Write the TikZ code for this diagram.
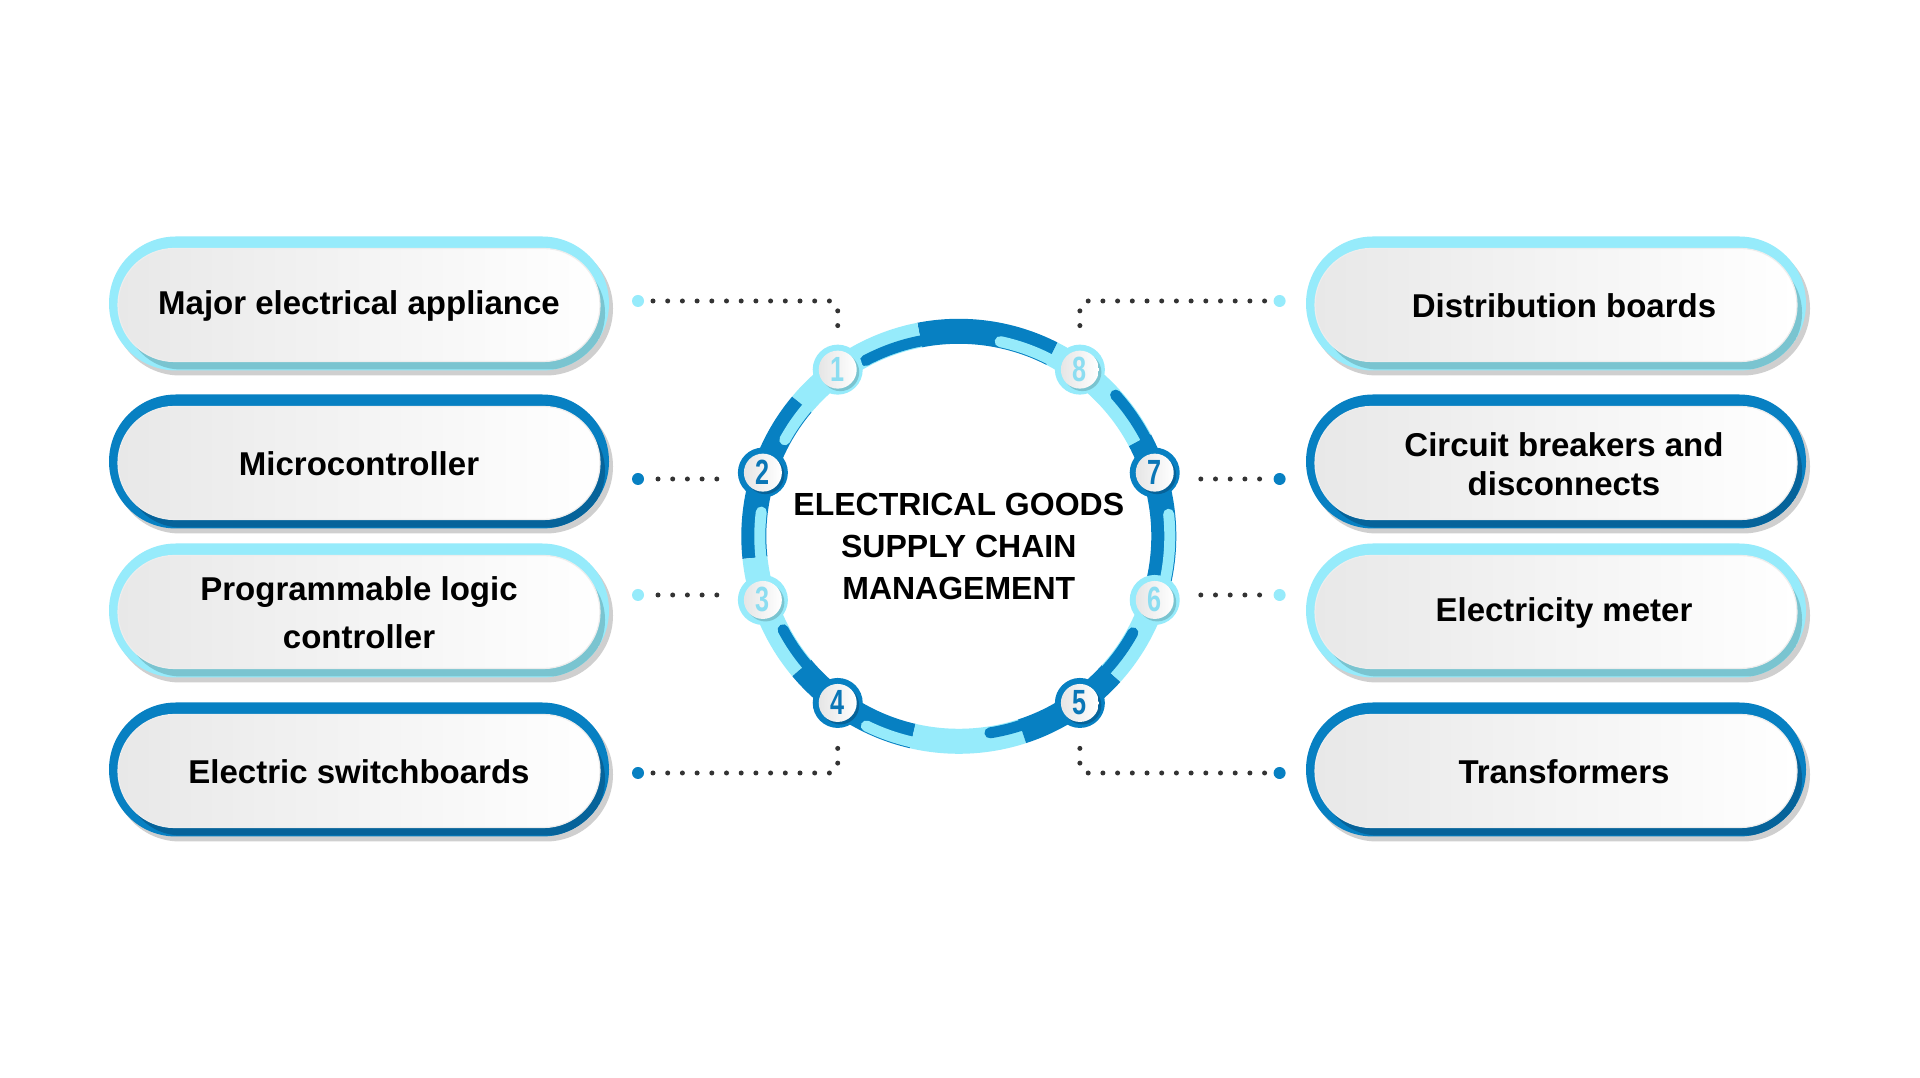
\documentclass[tikz,border=0pt]{standalone}
\usepackage{fontspec}
\setmainfont{Liberation Sans}
\usepackage{graphicx}
\usetikzlibrary{calc}
\definecolor{lightc}{HTML}{96EBFB}
\definecolor{darkc}{HTML}{0780C2}
\definecolor{lightsh}{HTML}{7AC4D0}
\definecolor{darksh}{HTML}{06639A}
\definecolor{graysh}{HTML}{CFCFCF}
\definecolor{lightnum}{HTML}{8CDDF1}
\definecolor{darknum}{HTML}{0A76B6}
\definecolor{dotc}{HTML}{333333}

\newcommand\pill[8]{% cx, cy, ring, shadow, name, fontsize/skip, text x, text
  \fill[graysh, rounded corners=67pt] ({#1-246},{#2-72}) rectangle ({#1+254},{#2+62});
  \fill[#3, rounded corners=67pt] ({#1-250},{#2-67}) rectangle ({#1+250},{#2+67});
  \begin{scope}
    \clip[rounded corners=67pt] ({#1-250},{#2-67}) rectangle ({#1+250},{#2+67});
    \fill[#4, rounded corners=56pt] ({#1-234},{#2-66}) rectangle ({#1+246},{#2+47});
  \end{scope}
  \shade[left color=black!9, right color=white, rounded corners=56.5pt] ({#1-241},{#2-58}) rectangle ({#1+241},{#2+55});
  \draw[black!7, line width=1.2pt, rounded corners=56.5pt] ({#1-241},{#2-58}) rectangle ({#1+241},{#2+55});
  \node[pilltext, font=\bfseries\fontsize{33}{#6}\selectfont] (#5) at (#7,{#2-2.5}) {#8};
}
\newcommand\numnode[6]{% name, angle, ring, shadow, digitcolor, digit
  \node[circle, fill=#3, minimum size=50pt, inner sep=0pt] (#1) at ({\rcx+206*cos(#2)},{\rcy+206*sin(#2)}) {};
  \fill[#4] ([shift={(2.5,-2.5)}]#1.center) circle (19);
  \shade[left color=black!10, right color=white] (#1.center) circle (19);
  \node[inner sep=0pt, text=#5, font=\bfseries\fontsize{35}{35}\selectfont] at (#1.center) {\scalebox{0.72}[1]{#6}};
}

\begin{document}
\begin{tikzpicture}[x=1pt,y=1pt,
  pilltext/.style={align=center, text=black, inner sep=0pt},
  dots/.style={dotc, line width=5pt, line cap=round, dash pattern=on 0pt off 14.7pt},
  bigdot/.style={circle, inner sep=0pt, minimum size=12pt},
  band/.style={line width=25pt},
  tongue/.style={line width=11pt, line cap=round},
]
\useasboundingbox (0,0) rectangle (1920,1078);
\fill[white] (0,0) rectangle (1920,1078);
\def\rcx{958.8}
\def\rcy{541.7}

% pills left
\pill{359}{774.5}{lightc}{lightsh}{l1}{40}{359}{Major electrical appliance}
\pill{359}{616.5}{darkc}{darksh}{l2}{40}{359}{Microcontroller}
\pill{359}{467.5}{lightc}{lightsh}{l3}{48}{359}{Programmable logic\\controller}
\pill{359}{308.5}{darkc}{darksh}{l4}{40}{359}{Electric switchboards}
% pills right
\pill{1556}{774.5}{lightc}{lightsh}{r1}{40}{1564}{Distribution boards}
\pill{1556}{616.5}{darkc}{darksh}{r2}{39}{1564}{Circuit breakers and\\disconnects}
\pill{1556}{467.5}{lightc}{lightsh}{r3}{40}{1564}{Electricity meter}
\pill{1556}{308.5}{darkc}{darksh}{r4}{40}{1564}{Transformers}

% ring bands
\foreach \a/\b/\col in {-12/28/darkc, 28/63/lightc, 63/101/darkc, 101/140/lightc, 140/186/darkc, 186/220/lightc, 220/257/darkc, 257/288/lightc, 288/318/darkc, 318/348/lightc}
  \draw[band, \col] ({\rcx+205*cos(\a)},{\rcy+205*sin(\a)}) arc[start angle=\a, end angle=\b, radius=205];
% ring tongues
\foreach \a/\b/\r/\col in {101/118/199/darkc, 63/78/199/lightc, 28/42/211/darkc, -12/6/211/lightc, -42/-29/199/darkc, -81/-72/199/darkc, -116/-103/211/lightc, 208/220/199/darkc, 173/186/199/lightc, 140/151/199/lightc}
  \draw[tongue, \col] ({\rcx+\r*cos(\a)},{\rcy+\r*sin(\a)}) arc[start angle=\a, end angle=\b, radius=\r];

% number nodes
\numnode{n1}{126}{lightc}{lightsh}{lightnum}{1}
\numnode{n2}{162}{darkc}{darksh}{darknum}{2}
\numnode{n3}{198}{lightc}{lightsh}{lightnum}{3}
\numnode{n4}{234}{darkc}{darksh}{darknum}{4}
\numnode{n5}{306}{darkc}{darksh}{darknum}{5}
\numnode{n6}{342}{lightc}{lightsh}{lightnum}{6}
\numnode{n7}{18}{darkc}{darksh}{darknum}{7}
\numnode{n8}{54}{lightc}{lightsh}{lightnum}{8}

% title
\node[align=center, inner sep=0pt, font=\bfseries\fontsize{32}{42}\selectfont] (title) at (\rcx,532) {ELECTRICAL GOODS\\SUPPLY CHAIN\\MANAGEMENT};

% connector dots
\node[bigdot, fill=lightc] (d1) at (638,777) {};
\node[bigdot, fill=darkc] (d2) at (638,599) {};
\node[bigdot, fill=lightc] (d3) at (638,483) {};
\node[bigdot, fill=darkc] (d4) at (638,305) {};
\node[bigdot, fill=lightc] (d8) at (1279.6,777) {};
\node[bigdot, fill=darkc] (d7) at (1279.6,599) {};
\node[bigdot, fill=lightc] (d6) at (1279.6,483) {};
\node[bigdot, fill=darkc] (d5) at (1279.6,305) {};

\draw[dots, rounded corners=8pt] ([xshift=15pt]d1.center) -| ([yshift=12pt]n1.north);
\draw[dots] ([xshift=20pt]d2.center) -- ($(d2.center -| n2.west)+(-19,0)$);
\draw[dots] ([xshift=20pt]d3.center) -- ($(d3.center -| n3.west)+(-19,0)$);
\draw[dots, rounded corners=8pt] ([xshift=15pt]d4.center) -| ([yshift=-12pt]n4.south);
\draw[dots, rounded corners=8pt] ([xshift=-15pt]d8.center) -| ([yshift=12pt]n8.north);
\draw[dots] ([xshift=-20pt]d7.center) -- ($(d7.center -| n7.east)+(19,0)$);
\draw[dots] ([xshift=-20pt]d6.center) -- ($(d6.center -| n6.east)+(19,0)$);
\draw[dots, rounded corners=8pt] ([xshift=-15pt]d5.center) -| ([yshift=-12pt]n5.south);
\end{tikzpicture}
\end{document}
